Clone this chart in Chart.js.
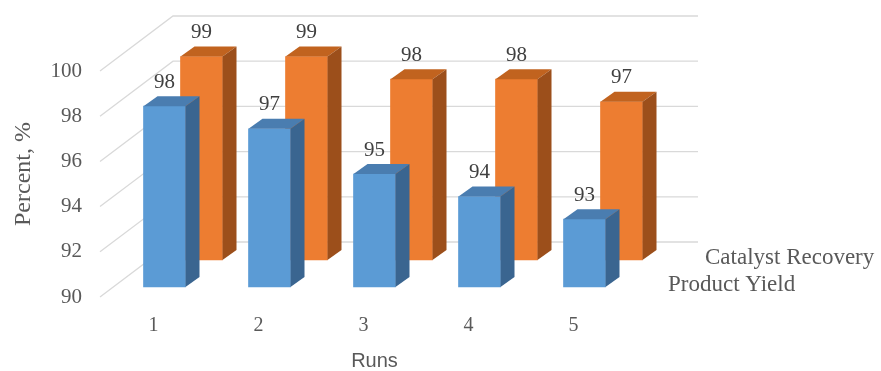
<!DOCTYPE html>
<html>
<head>
  <meta charset="utf-8">
  <title>Runs</title>
  <script src="https://cdn.jsdelivr.net/npm/chart.js"></script>
  <style>
    html, body {
      margin: 0;
      padding: 0;
      background: white;
    }
    .wrap {
      width: 881px;
      height: 371px;
    }
  </style>
</head>
<body>
<div class="wrap">
  <canvas id="runsChart" width="881" height="371"></canvas>
</div>
<script>
  const runs = ['1', '2', '3', '4', '5'];
  const productYield = [98, 97, 95, 94, 93];
  const catalystRecovery = [99, 99, 98, 98, 97];
  const yTicks = [90, 92, 94, 96, 98, 100];

  const SERIF = "'Liberation Serif', 'Times New Roman', serif";
  const SANS = "'Liberation Sans', Arial, sans-serif";
  const GRAY = '#595959';

  // oblique offsets for the fake 3D look
  const depth = { dx: 14, dy: -10 };
  const rowShift = { dx: 37, dy: -27 };
  const wallFront = { dx: -12, dy: 10 };
  const wallBack = { dx: 61, dy: -45 };

  const faces = [
    { top: '#4a7db0', side: '#3a6590' },
    { top: '#c1631f', side: '#9c4f1b' }
  ];

  const fake3d = {
    id: 'fake3d',
    beforeDatasetsDraw(chart) {
      const { ctx, chartArea, scales } = chart;
      ctx.save();
      ctx.strokeStyle = '#d9d9d9';
      ctx.lineWidth = 1.3;
      yTicks.forEach(v => {
        const y = scales.y.getPixelForValue(v);
        ctx.beginPath();
        ctx.moveTo(chartArea.left + wallFront.dx, y + wallFront.dy);
        ctx.lineTo(chartArea.left + wallBack.dx, y + wallBack.dy);
        ctx.lineTo(chartArea.right + wallBack.dx, y + wallBack.dy);
        ctx.stroke();
      });
      ctx.restore();
    },
    beforeDatasetDraw(chart, args) {
      chart.ctx.save();
      if (args.index === 1) chart.ctx.translate(rowShift.dx, rowShift.dy);
    },
    afterDatasetDraw(chart, args) {
      const ctx = chart.ctx;
      const f = faces[args.index];
      args.meta.data.forEach(bar => {
        const l = bar.x - bar.width / 2;
        const r = bar.x + bar.width / 2;
        const t = bar.y;
        const b = bar.base;
        // top face
        ctx.fillStyle = f.top;
        ctx.beginPath();
        ctx.moveTo(l, t);
        ctx.lineTo(l + depth.dx, t + depth.dy);
        ctx.lineTo(r + depth.dx, t + depth.dy);
        ctx.lineTo(r, t);
        ctx.closePath();
        ctx.fill();
        // side face
        ctx.fillStyle = f.side;
        ctx.beginPath();
        ctx.moveTo(r, t);
        ctx.lineTo(r + depth.dx, t + depth.dy);
        ctx.lineTo(r + depth.dx, b + depth.dy);
        ctx.lineTo(r, b);
        ctx.closePath();
        ctx.fill();
      });
      // value labels
      ctx.fillStyle = '#404040';
      ctx.font = '21px ' + SERIF;
      ctx.textAlign = 'center';
      ctx.textBaseline = 'middle';
      const values = chart.data.datasets[args.index].data;
      args.meta.data.forEach((bar, i) => {
        ctx.fillText(values[i], bar.x, bar.y - 24);
      });
      // series name on the depth axis
      ctx.fillStyle = GRAY;
      ctx.font = '23px ' + SERIF;
      ctx.textAlign = 'left';
      ctx.fillText(chart.data.datasets[args.index].label,
        chart.chartArea.right + 31, chart.scales.y.getPixelForValue(90) - 2);
      ctx.restore();
    }
  };

  new Chart(document.getElementById('runsChart'), {
    type: 'bar',
    data: {
      labels: runs,
      datasets: [
        {
          label: 'Product Yield',
          data: productYield,
          backgroundColor: '#5b9bd5',
          barThickness: 42,
          base: 90,
          clip: false
        },
        {
          label: 'Catalyst Recovery',
          data: catalystRecovery,
          backgroundColor: '#ed7d31',
          barThickness: 42,
          base: 90,
          clip: false
        }
      ]
    },
    options: {
      responsive: false,
      animation: false,
      events: [],
      layout: { padding: { top: 61, right: 244, left: 0, bottom: 0 } },
      datasets: { bar: { grouped: false } },
      plugins: {
        legend: { display: false },
        tooltip: { enabled: false }
      },
      scales: {
        x: {
          grid: { display: false, drawTicks: false },
          border: { display: false },
          ticks: {
            color: GRAY,
            font: { family: SERIF, size: 20 },
            padding: 27,
            labelOffset: -11
          },
          title: {
            display: true,
            text: 'Runs',
            color: GRAY,
            font: { family: SANS, size: 20, lineHeight: 1 },
            padding: { top: 0, bottom: 0 }
          },
          afterFit(s) { s.height = 84; }
        },
        y: {
          min: 90,
          max: 100,
          grid: { display: false, drawTicks: false },
          border: { display: false },
          afterBuildTicks(s) { s.ticks = yTicks.map(v => ({ value: v })); },
          ticks: {
            color: GRAY,
            font: { family: SERIF, size: 21 },
            padding: 30,
            labelOffset: 10
          },
          title: {
            display: true,
            text: 'Percent, %',
            color: GRAY,
            font: { family: SERIF, size: 24 },
            padding: { top: 9, bottom: 0 }
          },
          afterFit(s) { s.width = 112; }
        }
      }
    },
    plugins: [fake3d]
  });
</script>
</body>
</html>
